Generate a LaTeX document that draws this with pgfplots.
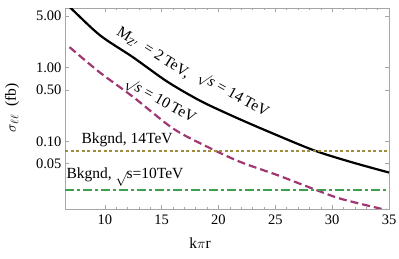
\documentclass[border=0pt]{standalone}
\usepackage{pgfplots}
\pgfplotsset{compat=1.18}
\usepackage{fontspec}
\setmainfont{Liberation Serif}
\definecolor{mag}{RGB}{160,55,115}
\definecolor{oli}{RGB}{160,140,60}
\definecolor{grn}{RGB}{60,160,80}
\newcommand{\lbl}{\fontsize{15.5}{17}\selectfont}
\newcommand{\rs}{$\surd$\kern-0.5pt\textit{s}}
\begin{document}
\begin{tikzpicture}
\path[use as bounding box] (0pt,0pt) rectangle (399pt,259pt);
\begin{axis}[
  at={(65pt,50pt)}, anchor=south west,
  scale only axis, width=324pt, height=201pt,
  ymode=log, xmin=6.5, xmax=35, ymin=0.0122, ymax=6.4,
  xtick={10,15,20,25,30,35},
  minor x tick num=4,
  ytick={0.05,0.1,0.5,1,5},
  yticklabels={0.05,0.10,0.50,1.00,5.00},
  /pgf/number format/assume math mode=true,
  tick label style={font=\fontsize{14.5}{16}\selectfont},
  axis line style={gray!70, line width=0.6pt},
  tick style={gray!70, line width=0.5pt},
  major tick length=4pt, minor tick length=2.5pt,
  xticklabel style={yshift=-2pt},
  clip=true,
]
\addplot[black, line width=2.2pt, smooth] coordinates {
(6.4,7.4) (6.9,6.6) (9.56,2.75) (12.48,1.38) (15.49,0.646) (18.4,0.355) (21.3,0.219) (24.3,0.138) (28.4,0.0759) (31.7,0.0525) (35,0.038)};
\addplot[mag, line width=2.2pt, dash pattern=on 8pt off 4pt, smooth] coordinates {
(6.9,1.89) (9.56,0.86) (12.5,0.40) (16,0.15) (19,0.085) (21.9,0.053) (25.2,0.035) (28.1,0.0236) (30.8,0.0167) (35,0.0116)};
\addplot[oli, line width=2pt, dash pattern=on 3pt off 2.5pt] coordinates {(6.5,0.075) (35,0.075)};
\addplot[grn, line width=2.2pt, dash pattern=on 9pt off 3pt on 3pt off 3pt] coordinates {(6.5,0.0222) (35,0.0222)};
\end{axis}
\node[rotate=-32, anchor=center, font=\lbl] at (153pt,206pt) {M$_{\mathrm{Z}'}$\ \ = 2\,TeV,};
\node[rotate=-29, anchor=center, font=\lbl] at (233pt,164pt) {\rs\ = 14\,TeV};
\node[rotate=-29, anchor=center, font=\lbl] at (160pt,158pt) {\rs\ = 10\,TeV};
\node[anchor=west, font=\lbl] at (78pt,119pt) {Bkgnd, 14TeV};
\node[anchor=west, font=\lbl] at (63pt,82pt) {Bkgnd,\ \raisebox{-5pt}{$\surd$}\kern-1pt s=10TeV};
\node[font=\lbl] at (200pt,16pt) {k$\pi$r};
\node[rotate=90, font=\lbl] at (12pt,151pt) {$\sigma_{\ell\ell}$\ \ (fb)};
\end{tikzpicture}
\end{document}
